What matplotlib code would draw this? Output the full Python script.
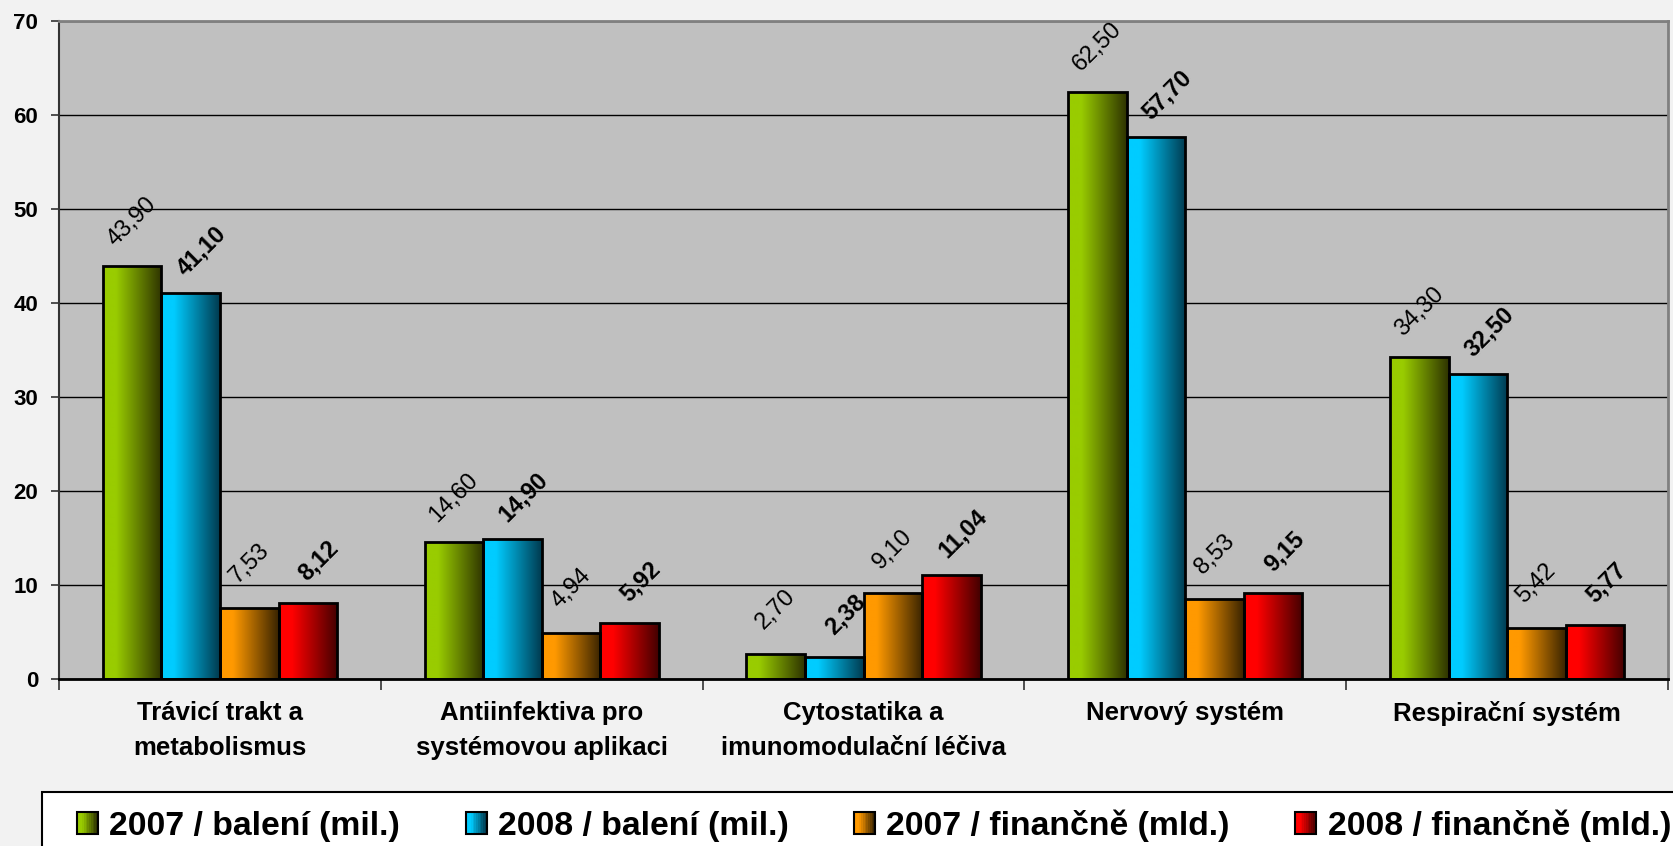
import numpy as np
import matplotlib
matplotlib.use('Agg')
import matplotlib.pyplot as plt
from matplotlib.patches import Rectangle
from matplotlib.legend_handler import HandlerPatch
from matplotlib.colors import LinearSegmentedColormap

# ------------------------------------------------------
# DATA
# ------------------------------------------------------
categories = ['Trávicí trakt a\nmetabolismus',
              'Antiinfektiva pro\nsystémovou aplikaci',
              'Cytostatika a\nimunomodulační léčiva',
              'Nervový systém',
              'Respirační systém']
series_names = ['2007 / balení (mil.)', '2008 / balení (mil.)',
                '2007 / finančně (mld.)', '2008 / finančně (mld.)']
baleni_2007 = [43.90, 14.60, 2.70, 62.50, 34.30]
baleni_2008 = [41.10, 14.90, 2.38, 57.70, 32.50]
fin_2007 = [7.53, 4.94, 9.10, 8.53, 5.42]
fin_2008 = [8.12, 5.92, 11.04, 9.15, 5.77]
yticks = [0, 10, 20, 30, 40, 50, 60, 70]

series = [baleni_2007, baleni_2008, fin_2007, fin_2008]
# bright colour on the left, dark on the right of each bar
bright = ['#99cc00', '#00ccff', '#ff9900', '#ff0000']
dark = ['#2e3300', '#003a4f', '#382300', '#420000']
bold_labels = [False, True, False, True]

plt.rcParams['font.family'] = ['Liberation Sans', 'DejaVu Sans']

fig = plt.figure(figsize=(16.73, 8.46), dpi=100)
fig.patch.set_facecolor('#f2f2f2')
ax = fig.add_axes([0.0353, 0.1974, 0.9617, 0.7777])
ax.set_facecolor('#c0c0c0')

def make_cmap(c1, c2):
	return LinearSegmentedColormap.from_list('g', [(0, c1), (0.22, c1), (1, c2)])

x = np.arange(len(categories))
w = 0.182
grad = np.linspace(0, 1, 256).reshape(1, -1)

for k, vals in enumerate(series):
	offs = (k - 1.5) * w
	bars = ax.bar(x + offs, vals, w, facecolor='none', edgecolor='black',
	              linewidth=2.0, zorder=4)
	cmap = make_cmap(bright[k], dark[k])
	for b in bars:
		bx, by, bw, bh = b.get_x(), b.get_y(), b.get_width(), b.get_height()
		im = ax.imshow(grad, cmap=cmap, aspect='auto', extent=[bx, bx + bw, by, by + bh],
		               zorder=3, interpolation='bilinear')
		im.set_clip_path(b)
	for xi, v in zip(x + offs, vals):
		lab = ('%.2f' % v).replace('.', ',')
		if bold_labels[k]:
			ax.annotate(lab, (xi, v), xytext=(8, 30), textcoords='offset points',
			            ha='center', va='center', rotation=45, rotation_mode='anchor',
			            fontsize=17, fontweight='bold', color='black', zorder=6)
		else:
			ax.annotate(lab, (xi, v), xytext=(0, 32), textcoords='offset points',
			            ha='center', va='center', rotation=45, rotation_mode='anchor',
			            fontsize=17, color='black', zorder=6)

ax.set_xlim(-0.5, len(categories) - 0.5)
ax.set_ylim(0, 70)
ax.set_yticks(yticks)
ax.set_yticklabels([str(t) for t in yticks], fontsize=16, fontweight='bold')
ax.yaxis.grid(True, color='black', linewidth=1.0, zorder=1)
ax.set_axisbelow(True)

ax.set_xticks(x)
ax.set_xticklabels(categories, fontsize=18.5, fontweight='bold', linespacing=1.55)
ax.set_xticks(np.arange(len(categories) + 1) - 0.5, minor=True)
ax.tick_params(axis='x', which='major', length=0, pad=16)
ax.tick_params(axis='x', which='minor', length=8, width=1.2, color='#333333')
ax.tick_params(axis='y', length=6, width=1.2, pad=9, color='#333333')

for s in ['top', 'right']:
	ax.spines[s].set_color('#808080')
	ax.spines[s].set_linewidth(2)
ax.spines['left'].set_color('#333333')
ax.spines['left'].set_linewidth(1.5)
ax.spines['bottom'].set_color('black')
ax.spines['bottom'].set_linewidth(2)
ax.spines['bottom'].set_zorder(5)

# ------------------------------------------------------
# LEGEND
# ------------------------------------------------------
class GradHandler(HandlerPatch):
	def create_artists(self, legend, orig_handle, xdescent, ydescent, width, height, fontsize, trans):
		c1, c2 = orig_handle._grad
		cmap = make_cmap(c1, c2)
		arts = []
		n = 12
		for i in range(n):
			arts.append(Rectangle((-xdescent + width * i / n, -ydescent), width / n + 0.3, height,
			                      facecolor=cmap(i / (n - 1)), edgecolor='none', transform=trans))
		arts.append(Rectangle((-xdescent, -ydescent), width, height, facecolor='none',
		                      edgecolor='black', linewidth=1.5, transform=trans))
		return arts

handles = []
for k in range(4):
	h = Rectangle((0, 0), 1, 1)
	h._grad = (bright[k], dark[k])
	handles.append(h)

fig.patches.append(Rectangle((0.025, -0.05), 1.0, 0.114, transform=fig.transFigure,
                             facecolor='white', edgecolor='black', linewidth=1.5, zorder=0))
leg = fig.legend(handles, series_names, loc='center left', bbox_to_anchor=(0.046, 0.0245),
                 ncol=4, frameon=False, handler_map={Rectangle: GradHandler()},
                 handlelength=0.62, handleheight=0.62, handletextpad=0.33, columnspacing=1.95,
                 borderpad=0, borderaxespad=0,
                 prop={'size': 24.3, 'weight': 'bold'})

fig.savefig('out.png', dpi=100, facecolor=fig.get_facecolor())
